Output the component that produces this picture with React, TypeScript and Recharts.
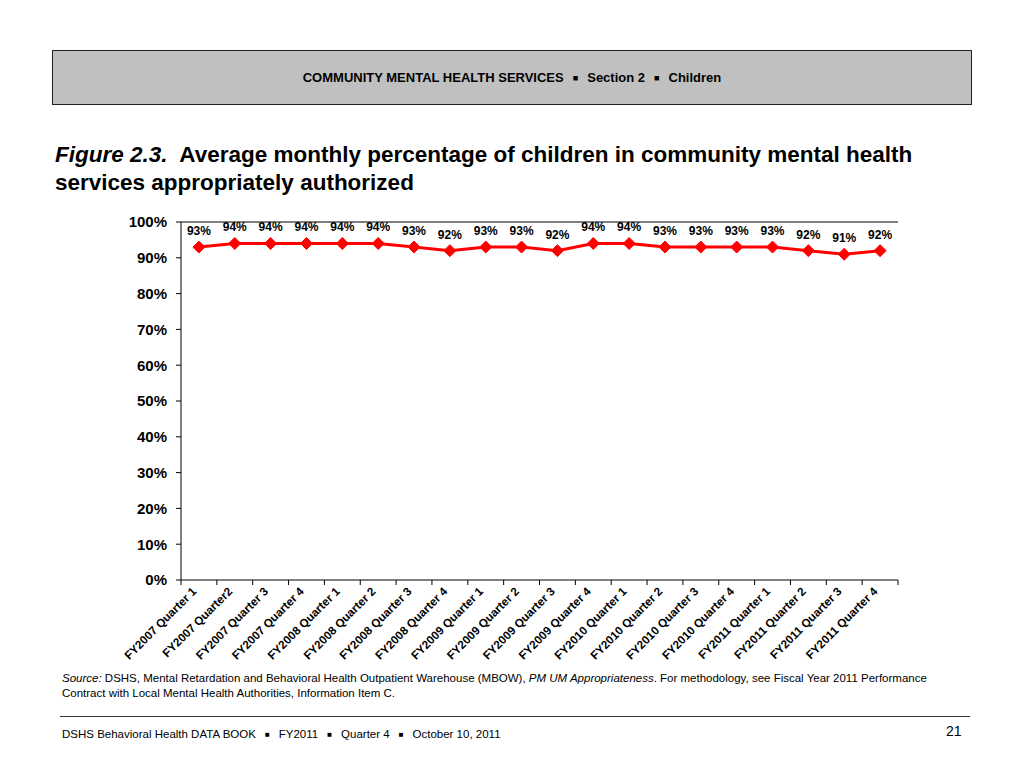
import React from "react";
import { LineChart, Line, XAxis, YAxis, ReferenceLine, LabelList } from "recharts";

const categories = [
  "FY2007 Quarter 1", "FY2007 Quarter2", "FY2007 Quarter 3", "FY2007 Quarter 4",
  "FY2008 Quarter 1", "FY2008 Quarter 2", "FY2008 Quarter 3", "FY2008 Quarter 4",
  "FY2009 Quarter 1", "FY2009 Quarter 2", "FY2009 Quarter 3", "FY2009 Quarter 4",
  "FY2010 Quarter 1", "FY2010 Quarter 2", "FY2010 Quarter 3", "FY2010 Quarter 4",
  "FY2011 Quarter 1", "FY2011 Quarter 2", "FY2011 Quarter 3", "FY2011 Quarter 4",
];
const values = [93, 94, 94, 94, 94, 94, 93, 92, 93, 93, 92, 94, 94, 93, 93, 93, 93, 92, 91, 92];
const yTicks = [0, 10, 20, 30, 40, 50, 60, 70, 80, 90, 100];
const boundaryTicks = Array.from({ length: categories.length + 1 }, (_, i) => i);

const data = categories.map((c, i) => ({ name: c, value: values[i], pos: i + 0.5 }));

const FONT = "'Liberation Sans', Arial, sans-serif";
const CHART_W = 1024;
const MARGIN = { top: 222, right: 126, left: 121, bottom: 98 };
const Y_AXIS_W = 60;
const PLOT_W = CHART_W - MARGIN.left - MARGIN.right - Y_AXIS_W;

const Diamond = (props: any) => {
  const { cx, cy } = props;
  if (cx == null || cy == null) return null;
  const r = 6;
  return (
    <polygon
      points={`${cx},${cy - r} ${cx + r},${cy} ${cx},${cy + r} ${cx - r},${cy}`}
      fill="#FF0000"
      stroke="#FF0000"
    />
  );
};

const XTick = (props: any) => {
  const { x, y, payload } = props;
  const idx = Math.round(payload.value);
  if (idx >= categories.length) return null;
  const half = PLOT_W / categories.length / 2;
  return (
    <g transform={`translate(${x + half - 8},${y - 1})`}>
      <text
        transform="rotate(-45)"
        textAnchor="end"
        dominantBaseline="hanging"
        fontFamily={FONT}
        fontWeight="bold"
        fontSize={11.7}
        fill="#000"
      >
        {categories[idx]}
      </text>
    </g>
  );
};

const PointLabel = (props: any) => {
  const { x, y, value } = props;
  return (
    <text x={x} y={y - 12} textAnchor="middle" fontFamily={FONT} fontWeight="bold" fontSize={12} fill="#000">
      {value}%
    </text>
  );
};

export default function App() {
  const sq = <span style={{ fontSize: "0.7em", margin: "0 9px", verticalAlign: "1px" }}>■</span>;
  return (
    <div style={{ position: "absolute", left: 0, top: 0, width: 1024, height: 768, background: "#fff", fontFamily: FONT, overflow: "hidden" }}>
      <div
        style={{
          position: "absolute", left: 52, top: 50, width: 918, height: 53,
          background: "#C0C0C0", border: "1px solid #222",
          display: "flex", alignItems: "center", justifyContent: "center",
          fontSize: 13, fontWeight: "bold", color: "#000",
        }}
      >
        <span>COMMUNITY MENTAL HEALTH SERVICES{sq}Section 2{sq}Children</span>
      </div>

      <div style={{ position: "absolute", left: 55, top: 141, width: 960, fontSize: 22.5, fontWeight: "bold", lineHeight: "28px", color: "#000", whiteSpace: "nowrap" }}>
        <i>Figure 2.3.</i>&nbsp; Average monthly percentage of children in community mental health
        <br />
        services appropriately authorized
      </div>

      <div style={{ position: "absolute", left: 0, top: 0 }}>
        <LineChart width={CHART_W} height={768} data={data} margin={MARGIN}>
          <XAxis
            type="number"
            dataKey="pos"
            domain={[0, categories.length]}
            ticks={boundaryTicks}
            interval={0}
            tick={<XTick />}
            tickLine={{ stroke: "#000" }}
            tickSize={5}
            axisLine={{ stroke: "#000" }}
            height={90}
          />
          <YAxis
            domain={[0, 100]}
            ticks={yTicks}
            interval={0}
            tickFormatter={(v: number) => `${v}%`}
            tick={{ fontFamily: FONT, fontWeight: "bold", fontSize: 15, fill: "#000" }}
            tickLine={{ stroke: "#000" }}
            tickSize={5}
            tickMargin={9}
            axisLine={{ stroke: "#000" }}
            width={Y_AXIS_W}
          />
          <YAxis yAxisId="right" orientation="right" width={0} tick={false} tickLine={false} axisLine={{ stroke: "#000" }} />
          <ReferenceLine y={100} stroke="#000" strokeWidth={1} />
          <Line
            type="linear"
            dataKey="value"
            stroke="#FF0000"
            strokeWidth={3}
            dot={<Diamond />}
            activeDot={false}
            isAnimationActive={false}
          >
            <LabelList dataKey="value" content={<PointLabel />} />
          </Line>
        </LineChart>
      </div>

      <div style={{ position: "absolute", left: 62, top: 671, width: 940, fontSize: 11.5, lineHeight: "15px", color: "#000", whiteSpace: "nowrap" }}>
        <i>Source:</i> DSHS, Mental Retardation and Behavioral Health Outpatient Warehouse (MBOW), <i>PM UM Appropriateness</i>. For methodology, see Fiscal Year 2011 Performance
        <br />
        Contract with Local Mental Health Authorities, Information Item C.
      </div>

      <div style={{ position: "absolute", left: 60, top: 716, width: 910, height: 0, borderTop: "1px solid #333" }} />

      <div style={{ position: "absolute", left: 62, top: 728, fontSize: 11.5, color: "#000" }}>
        DSHS Behavioral Health DATA BOOK{sq}FY2011{sq}Quarter 4{sq}October 10, 2011
      </div>
      <div style={{ position: "absolute", left: 946, top: 723, fontSize: 14, color: "#000" }}>21</div>
    </div>
  );
}
